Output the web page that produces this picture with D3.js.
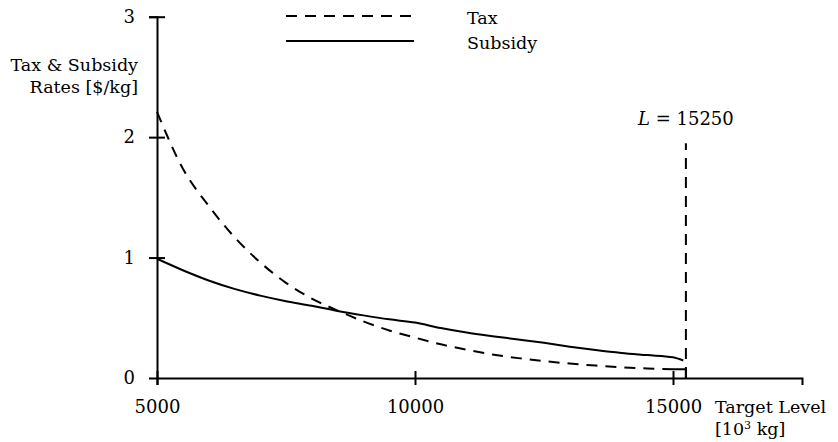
<!DOCTYPE html>
<html>
<head>
<meta charset="utf-8">
<script src="https://cdn.jsdelivr.net/npm/d3@7/dist/d3.min.js"></script>
<style>
  body { margin: 0; background: #fff; }
  svg text { font-family: "DejaVu Serif", serif; fill: #000; }
</style>
</head>
<body>
<div id="chart"></div>
<script>
// data
var targetLevels = [5000, 5500, 6000, 6500, 7000, 7500, 8000, 8500, 9000, 9500, 10000,
  10500, 11000, 11500, 12000, 12500, 13000, 13500, 14000, 14500, 15000];
var taxRates = [2.21, 1.74, 1.43, 1.17, 0.96, 0.79, 0.66, 0.56, 0.47, 0.395, 0.335,
  0.28, 0.235, 0.195, 0.165, 0.14, 0.12, 0.103, 0.088, 0.079, 0.072];
var subsidyRates = [0.99, 0.895, 0.81, 0.74, 0.684, 0.638, 0.60, 0.557, 0.52, 0.487, 0.46,
  0.415, 0.377, 0.347, 0.32, 0.292, 0.26, 0.232, 0.208, 0.19, 0.172];
var subsidyEnd = [15200, 0.145];
var taxTail = [[15000, 0.072], [15250, 0.072], [15250, 0]];
var limitL = 15250, limitTop = 1.95;
var xTicks = [5000, 10000, 15000];
var yTicks = [0, 1, 2, 3];

var width = 838, height = 442;

var svg = d3.select("#chart").append("svg")
  .attr("width", width)
  .attr("height", height);

var x = d3.scaleLinear().domain([5000, 17500]).range([157, 802]);
var y = d3.scaleLinear().domain([0, 3]).range([378, 16.7]);

var taxData = targetLevels.map(function(d, i) { return [d, taxRates[i]]; });
var subData = targetLevels.map(function(d, i) { return [d, subsidyRates[i]]; });
subData.push(subsidyEnd);

// axes
var xAxis = svg.append("g")
  .attr("transform", "translate(0," + y(0) + ")")
  .call(d3.axisBottom(x).tickValues(xTicks).tickSizeOuter(0).tickSize(7).tickPadding(15).tickFormat(d3.format("d")));
xAxis.selectAll(".tick line").attr("y1", -7).attr("y2", 7);

var yAxis = svg.append("g")
  .attr("transform", "translate(" + x(5000) + ",0)")
  .call(d3.axisLeft(y).tickValues(yTicks).tickSizeOuter(0).tickSize(8).tickPadding(14).tickFormat(d3.format("d")));
yAxis.selectAll(".tick line").attr("x1", 8).attr("x2", -8);
yAxis.selectAll(".tick").filter(function(d) { return d === 0; }).select("line").remove();

svg.selectAll(".domain, .tick line").attr("stroke", "#000").attr("stroke-width", 2);
svg.selectAll(".tick text").style("font-size", "18px").style("font-family", "DejaVu Serif");

// curves
var line = d3.line()
  .x(function(d) { return x(d[0]); })
  .y(function(d) { return y(d[1]); })
  .curve(d3.curveMonotoneX);

svg.append("path")
  .datum(taxData)
  .attr("d", line)
  .attr("fill", "none")
  .attr("stroke", "#000")
  .attr("stroke-width", 2)
  .attr("stroke-dasharray", "11,8");

svg.append("path")
  .datum(taxTail)
  .attr("d", d3.line().x(function(d) { return x(d[0]); }).y(function(d) { return y(d[1]); }))
  .attr("fill", "none")
  .attr("stroke", "#000")
  .attr("stroke-width", 2);

svg.append("path")
  .datum(subData)
  .attr("d", line)
  .attr("fill", "none")
  .attr("stroke", "#000")
  .attr("stroke-width", 2);

// limit line
svg.append("line")
  .attr("x1", x(limitL)).attr("x2", x(limitL))
  .attr("y1", y(0)).attr("y2", y(limitTop))
  .attr("stroke", "#000")
  .attr("stroke-width", 2)
  .attr("stroke-dasharray", "11,8");

var lt = svg.append("text")
  .attr("x", x(limitL))
  .attr("y", 125)
  .attr("text-anchor", "middle")
  .style("font-size", "18px");
lt.append("tspan").style("font-style", "italic").text("L");
lt.append("tspan").text(" = " + limitL);

// axis titles
var yt = svg.append("text")
  .attr("text-anchor", "end")
  .style("font-size", "17.5px");
yt.append("tspan").attr("x", 138).attr("y", 71).text("Tax & Subsidy");
yt.append("tspan").attr("x", 138).attr("y", 93).text("Rates [$/kg]");

svg.append("text")
  .attr("x", 715).attr("y", 413)
  .style("font-size", "17.5px")
  .text("Target Level");
var xt2 = svg.append("text")
  .attr("x", 715).attr("y", 435)
  .style("font-size", "17.5px");
xt2.append("tspan").text("[10");
xt2.append("tspan").attr("dy", -6).style("font-size", "11px").text("3");
xt2.append("tspan").attr("dy", 6).text(" kg]");

// legend
var legend = [
  { name: "Tax", dash: "11,8", y: 16 },
  { name: "Subsidy", dash: null, y: 41 }
];
var lg = svg.selectAll(".legend").data(legend).enter().append("g").attr("class", "legend");
lg.append("line")
  .attr("x1", 286).attr("x2", 414)
  .attr("y1", function(d) { return d.y; }).attr("y2", function(d) { return d.y; })
  .attr("stroke", "#000")
  .attr("stroke-width", 2)
  .attr("stroke-dasharray", function(d) { return d.dash; });
lg.append("text")
  .attr("x", 467)
  .attr("y", function(d) { return d.y + 8; })
  .style("font-size", "17.5px")
  .text(function(d) { return d.name; });
</script>
</body>
</html>
